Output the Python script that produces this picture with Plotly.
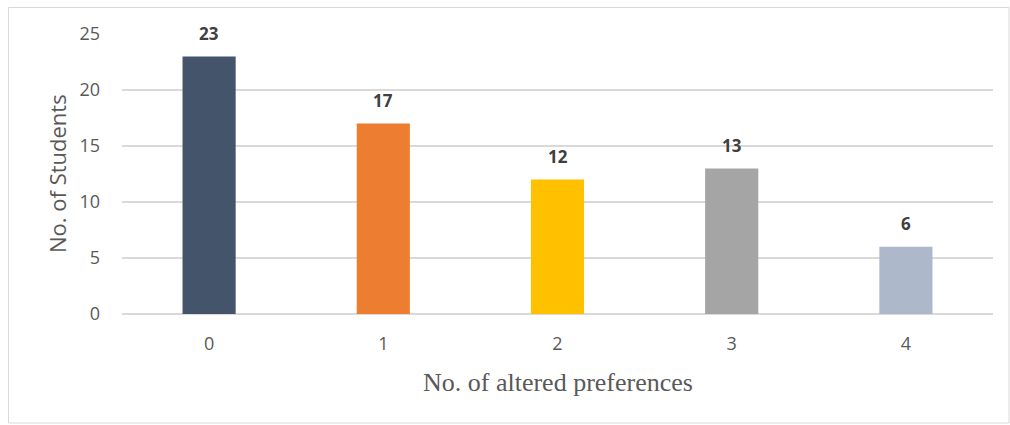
import plotly.graph_objects as go

# Number of students by how many preferences they altered
categories = ["0", "1", "2", "3", "4"]
students = [23, 17, 12, 13, 6]
bar_colors = ["#44546A", "#ED7D31", "#FFC000", "#A5A5A5", "#ADB9CA"]
y_ticks = [0, 5, 10, 15, 20, 25]

W, H = 1010, 425
ML, MR, MT, MB = 122, 17, 34, 111
plot_w = W - ML - MR
plot_h = H - MT - MB


def px_x(p):
    return (p - ML) / plot_w


def px_y(p):
    return (H - MB - p) / plot_h


fig = go.Figure(
    go.Bar(
        x=categories,
        y=students,
        marker=dict(color=bar_colors, line=dict(width=0)),
        hoverinfo="x+y",
    )
)

# value labels above each bar
for c, v in zip(categories, students):
    fig.add_annotation(
        x=c, y=v, text=f"<b>{v}</b>", showarrow=False,
        yshift=23, yanchor="middle",
        font=dict(family="Open Sans", size=17, color="#404040"),
    )

# axis titles
fig.add_annotation(
    xref="paper", yref="paper", x=px_x(57), y=0.5,
    text="No. of Students", textangle=-90, showarrow=False,
    xanchor="center", yanchor="middle",
    font=dict(family="Open Sans", size=22, color="#595959"),
)
fig.add_annotation(
    xref="paper", yref="paper", x=0.5, y=px_y(382),
    text="No. of altered preferences", showarrow=False,
    xanchor="center", yanchor="middle",
    font=dict(family="Liberation Serif", size=26, color="#595959"),
)

# light frame around the chart
fig.add_shape(
    type="rect", xref="paper", yref="paper",
    x0=px_x(8.5), x1=px_x(1009), y0=px_y(423), y1=px_y(7.5),
    line=dict(color="#D9D9D9", width=1), fillcolor="rgba(0,0,0,0)",
    layer="below",
)

fig.update_layout(
    width=W, height=H,
    margin=dict(l=ML, r=MR, t=MT, b=MB, autoexpand=False),
    paper_bgcolor="white", plot_bgcolor="white",
    bargap=0.695,
    showlegend=False,
    font=dict(family="Open Sans", size=18, color="#595959"),
)
fig.update_xaxes(
    type="category", range=[-0.5, 4.5],
    showgrid=False, showline=False, zeroline=False, ticks="",
    ticklabelstandoff=17,
    tickfont=dict(family="Open Sans", size=18, color="#595959"),
)
fig.update_yaxes(
    range=[0, 25], tickvals=y_ticks,
    showgrid=True, gridcolor="#D9D9D9", gridwidth=1.5,
    zeroline=True, zerolinecolor="#D9D9D9", zerolinewidth=1.5,
    showline=False, ticks="",
    ticklabelstandoff=21,
    tickfont=dict(family="Open Sans", size=18, color="#595959"),
)

fig.write_html("out.html")
